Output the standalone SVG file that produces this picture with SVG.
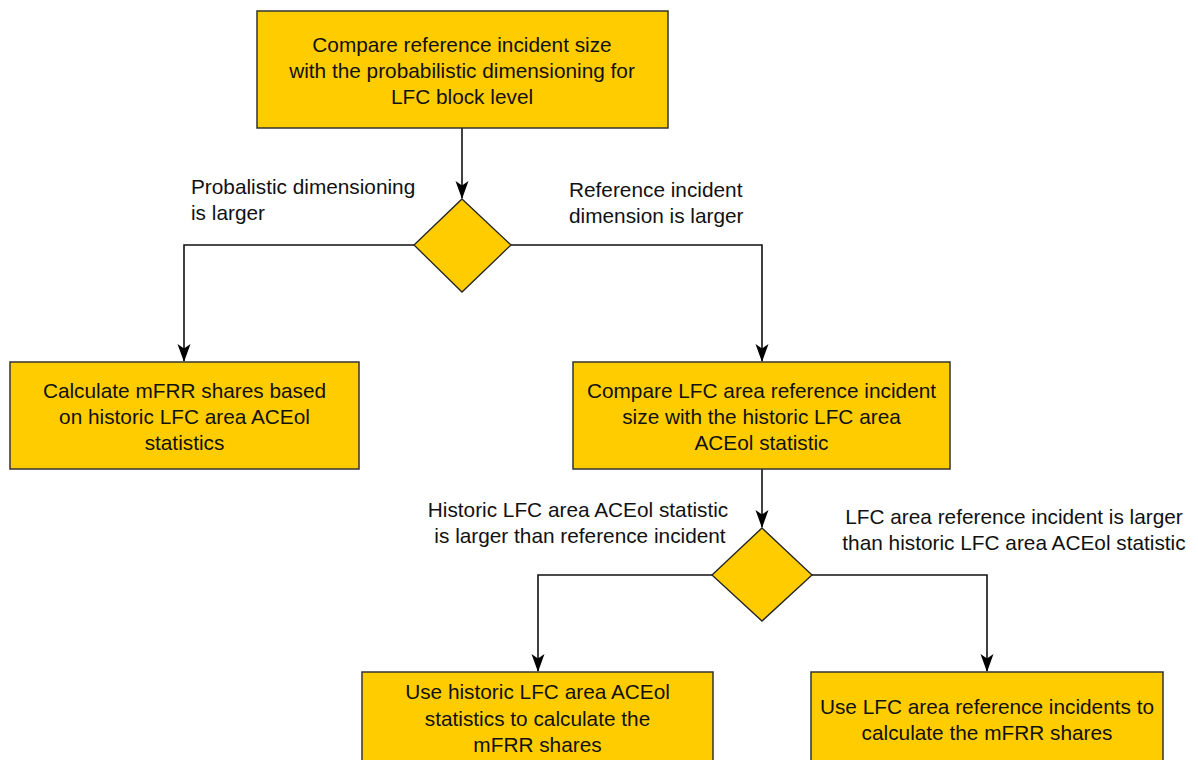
<svg xmlns="http://www.w3.org/2000/svg" width="1198" height="760" viewBox="0 0 1198 760">
<style>
.box{fill:#FFCC00;stroke:#333;stroke-width:1.5}
.dia{fill:#FFCC00;stroke:#222;stroke-width:1.3}
.t{font-family:"Liberation Sans",Arial,sans-serif;font-size:20.8px;fill:#111;text-anchor:middle}
.l{font-family:"Liberation Sans",Arial,sans-serif;font-size:20.8px;fill:#111}
.c{fill:none;stroke:#111;stroke-width:1.6}
</style>
<defs>
<marker id="ah" markerUnits="userSpaceOnUse" markerWidth="18" markerHeight="18" viewBox="0 0 18 18" refX="17" refY="9" orient="auto">
<path d="M0,2.5 L18,9 L0,15.5 L4.5,9 Z" fill="#000"/>
</marker>
</defs>
<rect width="1198" height="760" fill="#fff"/>
<g id="connectors">
<path class="c" d="M462,128 V198" marker-end="url(#ah)"/>
<path class="c" d="M414,245 H184 V361" marker-end="url(#ah)"/>
<path class="c" d="M511,245 H762 V361" marker-end="url(#ah)"/>
<path class="c" d="M762,469 V527" marker-end="url(#ah)"/>
<path class="c" d="M712,575 H538 V671" marker-end="url(#ah)"/>
<path class="c" d="M812,575 H987 V671" marker-end="url(#ah)"/>
</g>
<g id="labels">
<text class="l" x="191" y="194">Probalistic dimensioning</text>
<text class="l" x="191" y="220">is larger</text>
<text class="l" x="569" y="197">Reference incident</text>
<text class="l" x="569" y="223">dimension is larger</text>
<text class="t" x="578" y="517">Historic LFC area ACEol statistic</text>
<text class="t" x="580" y="543">is larger than reference incident</text>
<text class="t" x="1014" y="524">LFC area reference incident is larger</text>
<text class="t" x="1014" y="550">than historic LFC area ACEol statistic</text>
</g>
<g id="n1">
<rect class="box" x="257" y="11" width="411" height="117"/>
<text class="t" x="462" y="52">Compare reference incident size</text>
<text class="t" x="462" y="78">with the probabilistic dimensioning for</text>
<text class="t" x="462" y="104">LFC block level</text>
</g>
<g id="d1">
<polygon class="dia" points="462,199 511,245 462,292 414,245"/>
</g>
<g id="n2">
<rect class="box" x="10" y="362" width="349" height="107"/>
<text class="t" x="184.5" y="398">Calculate mFRR shares based</text>
<text class="t" x="184.5" y="424">on historic LFC area ACEol</text>
<text class="t" x="184.5" y="450">statistics</text>
</g>
<g id="n3">
<rect class="box" x="573" y="362" width="377" height="107"/>
<text class="t" x="761.5" y="398">Compare LFC area reference incident</text>
<text class="t" x="761.5" y="424">size with the historic LFC area</text>
<text class="t" x="761.5" y="450">ACEol statistic</text>
</g>
<g id="d2">
<polygon class="dia" points="762,528 812,575 762,621 712,575"/>
</g>
<g id="n4">
<rect class="box" x="362" y="672" width="351" height="107"/>
<text class="t" x="537.5" y="699">Use historic LFC area ACEol</text>
<text class="t" x="537.5" y="726">statistics to calculate the</text>
<text class="t" x="537.5" y="752">mFRR shares</text>
</g>
<g id="n5">
<rect class="box" x="811" y="672" width="352" height="107"/>
<text class="t" x="987" y="714">Use LFC area reference incidents to</text>
<text class="t" x="987" y="740">calculate the mFRR shares</text>
</g>
</svg>
